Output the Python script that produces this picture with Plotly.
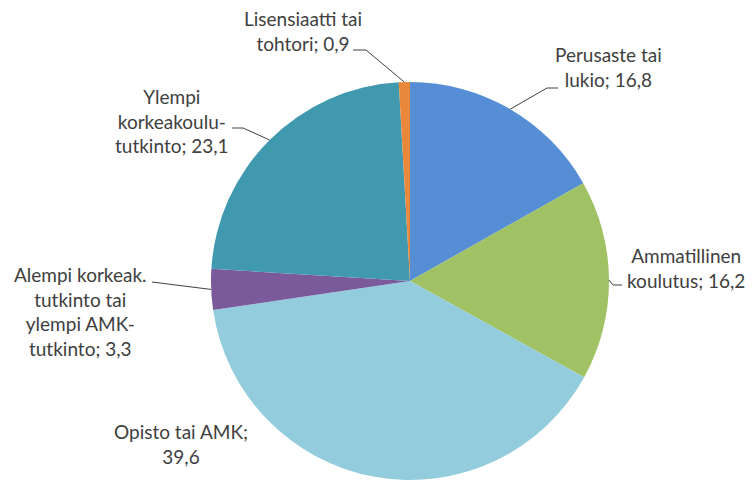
import math
import plotly.graph_objects as go

labels = ["Perusaste tai<br>lukio", "Ammatillinen<br>koulutus", "Opisto tai AMK;<br>39,6",
          "Alempi korkeak.<br>tutkinto tai<br>ylempi AMK-<br>tutkinto", "Ylempi<br>korkeakoulu-<br>tutkinto",
          "Lisensiaatti tai<br>tohtori"]
values = [16.8, 16.2, 39.6, 3.3, 23.1, 0.9]
colors = ["#558ED5", "#A0C264", "#93CDDD", "#7B5A9C", "#4199B0", "#E9883A"]

W, H = 753, 481
cx, cy, r = 410, 281, 199

# label centre (px) and leader elbow points (px); None = no leader
label_pos = [(608, 67), (686, 268), (181, 444), (80, 311), (172, 121), (303, 31)]
elbows = [[(558, 88), (547, 88)],
          [(622, 285), (613, 285)],
          None,
          [(152, 282)],
          [(232, 128), (243, 128)],
          [(353, 50), (366, 50)]]


def paper(px, py):
    return px / W, 1 - py / H


fig = go.Figure(go.Pie(
    labels=labels, values=values, sort=False, direction="clockwise",
    marker=dict(colors=colors, line=dict(width=0)),
    textinfo="none", hoverinfo="label+value",
    domain=dict(x=[(cx - r) / W, (cx + r) / W], y=[1 - (cy + r) / H, 1 - (cy - r) / H]),
))

total = sum(values)
cum = 0
for i, v in enumerate(values):
    mid = (cum + v / 2) / total * 2 * math.pi
    cum += v
    tip = (cx + r * math.sin(mid), cy - r * math.cos(mid))
    lbl = labels[i]
    txt = lbl if i == 2 else lbl + "; " + f"{v:.1f}".replace(".", ",")
    x, y = paper(*label_pos[i])
    fig.add_annotation(x=x, y=y, xref="paper", yref="paper", text=txt, showarrow=False,
                       align="center", xanchor="center", yanchor="middle")
    if elbows[i]:
        pts = elbows[i] + [tip]
        for a, b in zip(pts[:-1], pts[1:]):
            x0, y0 = paper(*a)
            x1, y1 = paper(*b)
            fig.add_shape(type="line", xref="paper", yref="paper", x0=x0, y0=y0, x1=x1, y1=y1,
                          line=dict(color="#404040", width=1))

fig.update_layout(width=W, height=H, margin=dict(l=0, r=0, t=0, b=0), showlegend=False,
                  paper_bgcolor="white", font=dict(family="Lato", size=19, color="#404040"))
fig.write_html("out.html", config={"displayModeBar": False},
               post_script="document.body.style.margin='0px';")
